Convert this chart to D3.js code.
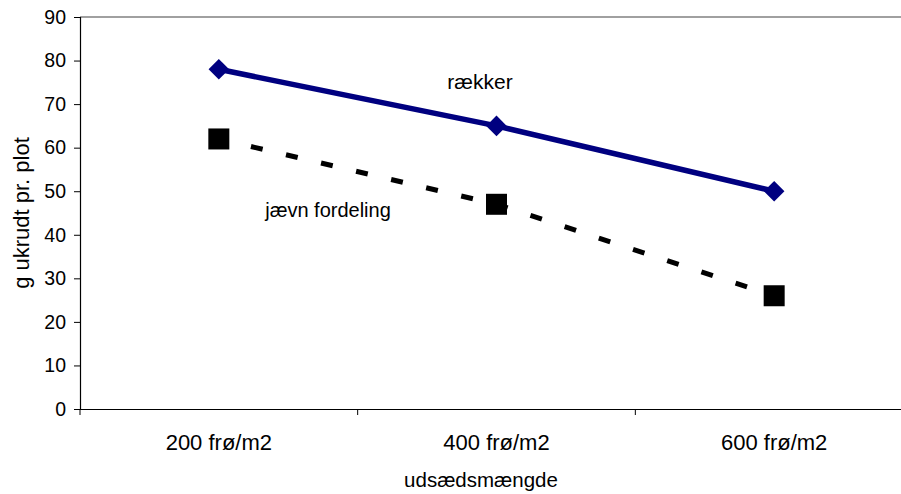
<!DOCTYPE html>
<html>
<head>
<meta charset="utf-8">
<script src="https://cdn.jsdelivr.net/npm/d3@7"></script>
<style>
  body { margin: 0; background: #fff; }
  svg text { font-family: "Liberation Sans", Arial, sans-serif; fill: #000; }
</style>
</head>
<body>
<div id="chart"></div>
<script>
/* data */
const categories = ["200 frø/m2", "400 frø/m2", "600 frø/m2"];
const raekker = [78, 65, 50];
const jaevnFordeling = [62, 47, 26];
const yTicks = [0, 10, 20, 30, 40, 50, 60, 70, 80, 90];

const w = 901;
const h = 494;
const margin = {top: 17, right: -12, bottom: 85, left: 80};

const svg = d3.select("#chart")
    .append("svg")
    .attr("width", w)
    .attr("height", h);

const xScale = d3.scaleBand()
    .domain(categories)
    .range([margin.left, w - margin.right]);

const yScale = d3.scaleLinear()
    .domain([0, 90])
    .range([h - margin.bottom, margin.top]);

/* grey top border of plot area */
svg.append("line")
    .attr("x1", margin.left).attr("x2", w)
    .attr("y1", yScale(90)).attr("y2", yScale(90))
    .attr("stroke", "#808080")
    .attr("stroke-width", 1.5);

const yAxis = d3.axisLeft(yScale).tickValues(yTicks).tickSize(6).tickPadding(8);
const gy = svg.append("g")
    .attr("transform", "translate(" + margin.left + ",0)")
    .call(yAxis);
gy.select(".domain").attr("stroke", "#000").attr("stroke-width", 1.2);
gy.selectAll(".tick line").attr("stroke", "#000");
gy.selectAll("text").style("font-size", "19.5px");

const xAxis = d3.axisBottom(xScale).tickSize(0).tickPadding(25);
const gx = svg.append("g")
    .attr("transform", "translate(0," + yScale(0) + ")")
    .call(xAxis);
gx.select(".domain").attr("stroke", "#000").attr("stroke-width", 1.2);
gx.selectAll("text").style("font-size", "22px");

/* tick marks between categories */
svg.append("g")
    .selectAll("line")
    .data(categories)
    .enter()
    .append("line")
    .attr("x1", (d) => xScale(d))
    .attr("x2", (d) => xScale(d))
    .attr("y1", yScale(0))
    .attr("y2", yScale(0) + 6)
    .attr("stroke", "#000");

const cx = (d, i) => xScale(categories[i]) + xScale.bandwidth() / 2;

const line = d3.line()
    .x((d, i) => cx(d, i))
    .y((d) => yScale(d));

/* jævn fordeling - dashed black with squares */
svg.append("path")
    .datum(jaevnFordeling)
    .attr("d", line)
    .attr("fill", "none")
    .attr("stroke", "#000")
    .attr("stroke-width", 5)
    .attr("stroke-dasharray", "12,24")
    .attr("stroke-dashoffset", 3);

svg.selectAll(".sq")
    .data(jaevnFordeling)
    .enter()
    .append("rect")
    .attr("class", "sq")
    .attr("x", (d, i) => cx(d, i) - 10.5)
    .attr("y", (d) => yScale(d) - 10.5)
    .attr("width", 21)
    .attr("height", 21)
    .attr("fill", "#000");

/* rækker - solid navy with diamonds */
svg.append("path")
    .datum(raekker)
    .attr("d", line)
    .attr("fill", "none")
    .attr("stroke", "#000080")
    .attr("stroke-width", 5.5);

svg.selectAll(".dia")
    .data(raekker)
    .enter()
    .append("path")
    .attr("class", "dia")
    .attr("d", d3.symbol().type(d3.symbolDiamond2).size(270))
    .attr("transform", (d, i) => "translate(" + cx(d, i) + "," + yScale(d) + ")")
    .attr("fill", "#000080");

/* series labels */
svg.append("text")
    .attr("x", 480).attr("y", 89)
    .attr("text-anchor", "middle")
    .style("font-size", "21px")
    .text("rækker");

svg.append("text")
    .attr("x", 328).attr("y", 217)
    .attr("text-anchor", "middle")
    .style("font-size", "20px")
    .text("jævn fordeling");

/* axis titles */
svg.append("text")
    .attr("x", 481).attr("y", 487)
    .attr("text-anchor", "middle")
    .style("font-size", "20.5px")
    .text("udsædsmængde");

svg.append("text")
    .attr("transform", "translate(29," + yScale(45) + ") rotate(-90)")
    .attr("text-anchor", "middle")
    .style("font-size", "22px")
    .text("g ukrudt pr. plot");
</script>
</body>
</html>
